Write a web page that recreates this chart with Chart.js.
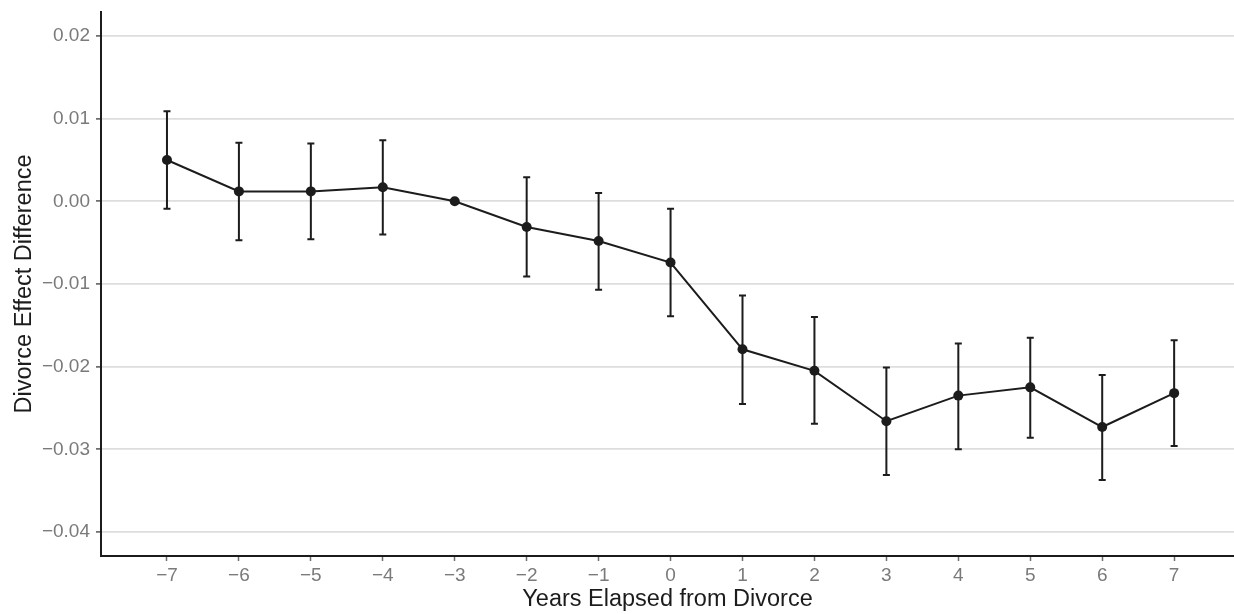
<!DOCTYPE html>
<html>
<head>
<meta charset="utf-8">
<title>Divorce Effect Difference</title>
<script src="https://cdn.jsdelivr.net/npm/chart.js@4.4.1/dist/chart.umd.min.js"></script>
<style>
  html, body { margin: 0; padding: 0; background: #ffffff; overflow: hidden; }
  #chartWrapper { width: 1234px; height: 614px; }
</style>
</head>
<body>
<div id="chartWrapper"><canvas id="effectChart" width="1234" height="614"></canvas></div>
<script>
"use strict";

// years elapsed from divorce
const years = [-7, -6, -5, -4, -3, -2, -1, 0, 1, 2, 3, 4, 5, 6, 7];
// point estimates
const estimates = [0.0050, 0.0012, 0.0012, 0.0017, 0.0000, -0.0031, -0.0048, -0.0074, -0.0179, -0.0205, -0.0266, -0.0235, -0.0225, -0.0273, -0.0232];
// confidence interval bounds (reference year -3 has none)
const lowerBounds = [-0.0009, -0.0047, -0.0046, -0.0040, null, -0.0091, -0.0107, -0.0139, -0.0245, -0.0269, -0.0331, -0.0300, -0.0286, -0.0337, -0.0296];
const upperBounds = [0.0109, 0.0071, 0.0070, 0.0074, null, 0.0029, 0.0010, -0.0009, -0.0114, -0.0140, -0.0201, -0.0172, -0.0165, -0.0210, -0.0168];
// tick labels
const yTickValues = [-0.04, -0.03, -0.02, -0.01, 0.00, 0.01, 0.02];
const xTickValues = years;

const FONT_FAMILY = "'Liberation Sans', Arial, Helvetica, sans-serif";
const INK = "#1c1c1c";

const minusSign = (text) => text.replace("-", "\u2212");

// draws the vertical error bars with small caps
const errorBarPlugin = {
  id: "errorBars",
  beforeDatasetsDraw(chart) {
    const { ctx, scales } = chart;
    const xScale = scales.x;
    const yScale = scales.y;
    ctx.save();
    ctx.strokeStyle = INK;
    ctx.lineWidth = 2;
    years.forEach((year, i) => {
      if (lowerBounds[i] === null || upperBounds[i] === null) return;
      const px = xScale.getPixelForValue(year);
      const yLow = yScale.getPixelForValue(lowerBounds[i]);
      const yHigh = yScale.getPixelForValue(upperBounds[i]);
      const capHalf = 3.5;
      ctx.beginPath();
      ctx.moveTo(px, yHigh);
      ctx.lineTo(px, yLow);
      ctx.moveTo(px - capHalf, yHigh);
      ctx.lineTo(px + capHalf, yHigh);
      ctx.moveTo(px - capHalf, yLow);
      ctx.lineTo(px + capHalf, yLow);
      ctx.stroke();
    });
    ctx.restore();
  },
};

// keep chart.js from reserving room for half tick labels at the ends
const dropEdgePadding = (scale) => {
  scale.paddingTop = 0;
  scale.paddingBottom = 0;
  scale.paddingLeft = 0;
  scale.paddingRight = 0;
};

document.addEventListener("DOMContentLoaded", () => {
  const canvas = document.querySelector("canvas#effectChart");

  const chart = new Chart(canvas, {
    type: "line",
    data: {
      datasets: [
        {
          label: "Divorce effect difference",
          data: years.map((year, i) => ({ x: year, y: estimates[i] })),
          borderColor: INK,
          backgroundColor: INK,
          borderWidth: 2,
          pointRadius: 5,
          pointHoverRadius: 5,
          pointBorderWidth: 0,
          tension: 0,
        },
      ],
    },
    plugins: [errorBarPlugin],
    options: {
      responsive: false,
      animation: false,
      devicePixelRatio: 1,
      layout: {
        autoPadding: false,
        padding: { left: 0, top: 12, right: 0, bottom: 0 },
      },
      plugins: {
        legend: { display: false },
        tooltip: { enabled: false },
      },
      scales: {
        x: {
          type: "linear",
          min: -7.917,
          max: 7.832,
          afterBuildTicks: (scale) => {
            scale.ticks = xTickValues.map((value) => ({ value }));
          },
          afterFit: (scale) => {
            scale.height = 58;
            dropEdgePadding(scale);
          },
          grid: {
            drawOnChartArea: false,
            drawTicks: true,
            tickLength: 5,
            tickColor: "#6e6e6e",
            tickWidth: 1.5,
          },
          border: { display: true, color: INK, width: 2 },
          ticks: {
            color: "#7a7a7a",
            padding: 3,
            maxRotation: 0,
            autoSkip: false,
            font: { family: FONT_FAMILY, size: 19 },
            callback: (value) => minusSign(String(value)),
          },
          title: {
            display: true,
            text: "Years Elapsed from Divorce",
            color: INK,
            font: { family: FONT_FAMILY, size: 23.5 },
            padding: { top: 0, bottom: 0 },
          },
        },
        y: {
          type: "linear",
          min: -0.0429,
          max: 0.0229,
          afterBuildTicks: (scale) => {
            scale.ticks = yTickValues.map((value) => ({ value }));
          },
          afterFit: (scale) => {
            scale.width = 101;
            dropEdgePadding(scale);
          },
          grid: {
            color: "#dedede",
            lineWidth: 1.8,
            drawTicks: true,
            tickLength: 5,
            tickColor: "#555555",
            tickWidth: 1.5,
          },
          border: { display: true, color: INK, width: 2 },
          ticks: {
            color: "#7a7a7a",
            padding: 6,
            autoSkip: false,
            font: { family: FONT_FAMILY, size: 19 },
            callback: (value) => minusSign(value.toFixed(2)),
          },
          title: {
            display: true,
            text: "Divorce Effect Difference",
            color: INK,
            font: { family: FONT_FAMILY, size: 23.5 },
            padding: { top: 10, bottom: 0 },
          },
        },
      },
    },
  });
  // console.log(chart.chartArea);
});
</script>
</body>
</html>
